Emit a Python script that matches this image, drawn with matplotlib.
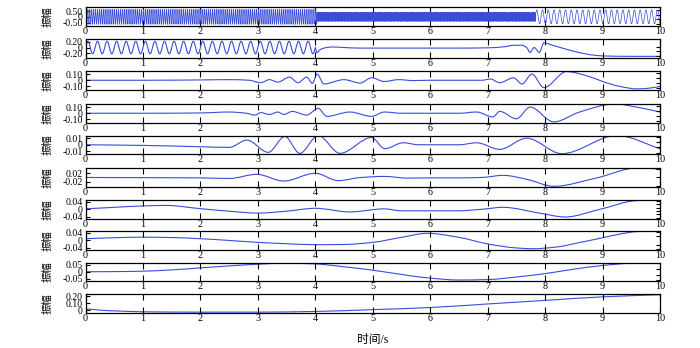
import numpy as np
import matplotlib
matplotlib.use('Agg')
import matplotlib.pyplot as plt
from matplotlib.ticker import FixedLocator, NullFormatter
from matplotlib.path import Path
from matplotlib.patches import PathPatch

plt.rcParams['font.family'] = ['Liberation Serif', 'Noto Sans CJK SC']

# ---------------- data ----------------
x_ticks = [0, 1, 2, 3, 4, 5, 6, 7, 8, 9, 10]
y_label = '振幅'
x_label = '时间/s'

# IMF1: constant-tone segments (start s, end s, Hz, amplitude)
imf1_seg_start = [0.0, 4.03, 7.83]
imf1_seg_end = [4.03, 7.83, 10.0]
imf1_seg_freq = [30.0, 90.0, 10.0]
imf1_seg_amp = [0.65, 0.4, 0.6]

# IMF2: tone part (0 .. 4 s) then read points
imf2_tone_end = 4.0
imf2_tone_freq = 6.0
imf2_tone_amp = 0.22
imf2_t = [4.0, 4.03, 4.08, 4.15, 4.3, 4.5, 4.8, 5.5, 6.5, 7.0, 7.3, 7.45, 7.6, 7.68,
          7.74, 7.81, 7.9, 7.98, 8.1, 8.3, 8.5, 8.7, 8.9, 9.1, 9.5, 10.0]
imf2_y = [0.0, -0.18, -0.08, -0.02, 0.02, 0.0, -0.02, -0.02, -0.02, -0.01, 0.03, 0.08, 0.08, 0.0,
          -0.17, 0.0, -0.17, 0.17, 0.1, -0.02, -0.13, -0.22, -0.28, -0.3, -0.31, -0.31]

imf3_t = [0, 1, 2, 2.5, 2.85, 3.05, 3.2, 3.35, 3.55, 3.7, 3.85, 3.95, 4.03, 4.15, 4.5,
          4.78, 4.98, 5.2, 5.45, 5.7, 6.0, 6.5, 6.9, 7.05, 7.21, 7.45, 7.6, 7.77, 7.98,
          8.37, 8.8, 9.0, 9.3, 9.6, 9.8, 10.0]
imf3_y = [0, 0, 0.005, 0.01, 0.0, -0.04, 0.01, -0.03, 0.05, -0.04, 0.05, -0.05, 0.1, -0.06,
          0.01, -0.045, 0.04, -0.02, 0.01, -0.005, 0.0, 0.0, 0.0, 0.02, -0.04, 0.04, -0.06,
          0.1, -0.12, 0.14, 0.05, -0.02, -0.1, -0.14, -0.13, -0.1]

imf4_t = [0, 1, 2, 2.5, 2.8, 2.95, 3.05, 3.2, 3.35, 3.45, 3.6, 3.85, 4.05, 4.2, 4.6,
          4.98, 5.2, 5.5, 6.0, 6.5, 6.81, 7.09, 7.21, 7.5, 7.74, 8.15, 8.6, 9.2, 9.7, 10.0]
imf4_y = [0, 0, 0.005, 0.02, 0.0, -0.03, 0.01, -0.02, 0.02, -0.02, 0.03, -0.03, 0.08,
          -0.05, 0.02, -0.05, 0.02, 0.0, 0.0, 0.0, 0.02, -0.06, 0.03, -0.09, 0.1, -0.14,
          0.02, 0.15, 0.08, 0.02]

imf5_t = [0, 1, 2, 2.5, 2.81, 3.18, 3.47, 3.73, 4.05, 4.43, 4.98, 5.21, 5.53, 5.8, 6.2,
          6.5, 6.81, 7.21, 7.68, 8.29, 9.25, 10.0]
imf5_y = [0, -0.001, -0.003, -0.004, 0.007, -0.0115, 0.0125, -0.013, 0.014, -0.013, 0.011,
          -0.006, 0.003, 0.0, 0.0, 0.0, 0.003, -0.007, 0.01, -0.0135, 0.014, -0.006]

imf6_t = [0, 1, 2, 2.5, 2.98, 3.45, 4.0, 4.4, 4.8, 5.2, 5.6, 6.0, 6.5, 6.9, 7.27, 7.7,
          8.15, 8.9, 9.6, 10.0]
imf6_y = [0, -0.001, -0.002, -0.005, 0.015, -0.017, 0.02, -0.015, 0.0, 0.005, -0.003,
          -0.002, -0.002, 0.0, 0.01, -0.01, -0.042, -0.002, 0.045, 0.04]

imf7_t = [0, 0.5, 1.0, 1.4, 2.0, 2.5, 3.0, 3.5, 4.0, 4.6, 5.2, 5.5, 6.0, 6.5, 6.9, 7.27,
          7.9, 8.35, 8.96, 9.6, 9.8, 10.0]
imf7_y = [0.002, 0.01, 0.017, 0.02, 0.003, -0.01, -0.02, -0.01, 0.005, -0.014, 0.002,
          -0.008, -0.008, -0.008, 0.0, 0.01, -0.02, -0.04, 0.0, 0.045, 0.046, 0.046]

imf8_t = [0, 0.5, 1, 1.5, 2, 2.5, 3, 3.5, 4, 4.5, 5, 5.5, 5.95, 6.5, 7, 7.5, 7.8, 8.2,
          8.6, 9, 9.3, 9.6, 10]
imf8_y = [0.008, 0.013, 0.016, 0.014, 0.008, -0.001, -0.011, -0.018, -0.023, -0.022, -0.011,
          0.015, 0.036, 0.015, -0.019, -0.04, -0.044, -0.035, -0.012, 0.013, 0.032, 0.045,
          0.048]

imf9_t = [0, 0.5, 1, 1.5, 2, 2.5, 3, 3.5, 4, 4.5, 5, 5.5, 6, 6.5, 7, 7.5, 8, 8.5, 9, 9.5, 10]
imf9_y = [0.0, 0.001, 0.004, 0.013, 0.027, 0.041, 0.053, 0.06, 0.055, 0.035, 0.011, -0.019,
          -0.045, -0.058, -0.055, -0.037, -0.013, 0.018, 0.044, 0.06, 0.064]

res_t = [0, 0.1, 0.3, 0.6, 1, 2, 3, 4, 5, 6, 7, 8, 9, 10]
res_y = [0.02, 0.015, 0.0, -0.01, -0.02, -0.025, -0.025, -0.015, 0.01, 0.04, 0.09, 0.14,
         0.19, 0.22]

# y ticks (left, labelled) for each panel
yticks = [[-0.5, 0, 0.5], [-0.2, 0, 0.2], [-0.1, 0, 0.1], [-0.1, 0, 0.1], [-0.01, 0, 0.01],
          [-0.02, 0.02], [-0.04, 0, 0.04], [-0.04, 0, 0.04], [-0.05, 0, 0.05], [0, 0.1, 0.2]]
ytick_labels = [['-0.50', '0', '0.50'], ['-0.20', '0', '0.20'], ['-0.10', '0', '0.10'],
                ['-0.10', '0', '0.10'], ['-0.01', '0', '0.01'], ['-0.02', '0.02'],
                ['-0.04', '0', '0.04'], ['-0.04', '0', '0.04'], ['-0.05', '0', '0.05'],
                ['0', '0.10', '0.20']]


# ---------------- helpers ----------------
def tone_series(starts, ends, freqs, amps):
    ts, ys = [], []
    for s, e, f, a in zip(starts, ends, freqs, amps):
        t = np.linspace(s, e, int((e - s) * 400) + 1)
        ts.append(t)
        ys.append(a * np.sin(2 * np.pi * f * (t - s)))
    return np.concatenate(ts), np.concatenate(ys)


def smooth_path(t, y):
    """Bezier path through the read points (monotone tangents, flat at extrema)."""
    t = np.asarray(t, float)
    y = np.asarray(y, float)
    h = np.diff(t)
    d = np.diff(y) / h
    m = np.zeros_like(y)
    m[0], m[-1] = d[0], d[-1]
    for k in range(1, len(y) - 1):
        if d[k - 1] * d[k] > 0:
            w1 = 2 * h[k] + h[k - 1]
            w2 = h[k] + 2 * h[k - 1]
            m[k] = (w1 + w2) / (w1 / d[k - 1] + w2 / d[k])
    verts = [(t[0], y[0])]
    codes = [Path.MOVETO]
    for k in range(len(t) - 1):
        verts += [(t[k] + h[k] / 3, y[k] + m[k] * h[k] / 3),
                  (t[k + 1] - h[k] / 3, y[k + 1] - m[k + 1] * h[k] / 3),
                  (t[k + 1], y[k + 1])]
        codes += [Path.CURVE4] * 3
    return Path(verts, codes)


t1, y1 = tone_series(imf1_seg_start, imf1_seg_end, imf1_seg_freq, imf1_seg_amp)
t2a, y2a = tone_series([0.0], [imf2_tone_end], [imf2_tone_freq], [imf2_tone_amp])

series = [None, None, (imf3_t, imf3_y), (imf4_t, imf4_y), (imf5_t, imf5_y),
          (imf6_t, imf6_y), (imf7_t, imf7_y), (imf8_t, imf8_y), (imf9_t, imf9_y),
          (res_t, res_y)]

ylims = [(-0.75, 0.85), (-0.35, 0.3), (-0.15, 0.15), (-0.15, 0.15), (-0.014, 0.014),
         (-0.043, 0.045), (-0.048, 0.048), (-0.048, 0.048), (-0.065, 0.065), (-0.03, 0.23)]
right_ticks = [np.linspace(-0.6, 0.6, 4), np.linspace(-0.3, 0.2, 4), np.linspace(-0.12, 0.12, 4),
               np.linspace(-0.12, 0.12, 4), np.linspace(-0.012, 0.012, 4),
               np.linspace(-0.04, 0.04, 5), np.linspace(-0.045, 0.045, 6),
               np.linspace(-0.045, 0.045, 5), np.linspace(-0.06, 0.06, 4),
               np.linspace(0.0, 0.2, 3)]

# ---------------- figure ----------------
W, H = 700, 348
fig = plt.figure(figsize=(W / 100, H / 100), dpi=100)
ax_left, ax_right = 85.5, 660.0
tops = [7, 39, 71, 104, 135.5, 168, 200, 231, 262.5, 294]
height = 18.5
line_color = '#3a4cdc'

for i in range(10):
    ax = fig.add_axes([ax_left / W, 1 - (tops[i] + height) / H,
                       (ax_right - ax_left) / W, height / H])
    if i == 0:
        ax.plot(t1, y1, color=line_color, lw=0.5)
    elif i == 1:
        ax.plot(t2a, y2a, color=line_color, lw=0.8)
        ax.add_patch(PathPatch(smooth_path(imf2_t, imf2_y), fill=False,
                               edgecolor=line_color, lw=0.8))
    else:
        t, y = series[i]
        ax.add_patch(PathPatch(smooth_path(t, y), fill=False, edgecolor=line_color, lw=0.8))
    ax.set_xlim(0, 10)
    ax.set_ylim(*ylims[i])
    ax.set_xticks(x_ticks)
    ax.set_xticklabels([str(v) for v in x_ticks])
    ax.set_yticks(yticks[i])
    ax.set_yticklabels(ytick_labels[i])
    ax.yaxis.set_minor_locator(FixedLocator(right_ticks[i]))
    ax.yaxis.set_minor_formatter(NullFormatter())
    ax.tick_params(axis='x', direction='in', top=True, bottom=True, length=4, width=0.8,
                   labelsize=7.3, pad=1)
    ax.tick_params(axis='y', which='major', direction='in', left=True, right=False,
                   length=3, width=0.8, labelsize=7, pad=2)
    ax.tick_params(axis='y', which='minor', direction='in', left=False, right=True,
                   length=3, width=0.8)
    for sp in ax.spines.values():
        sp.set_linewidth(0.9)
    ax.set_ylabel(y_label, fontsize=7.5, labelpad=0)
    ax.yaxis.set_label_coords(-0.058, 0.5)
    if i == 9:
        ax.set_xlabel(x_label, fontsize=8.5, labelpad=8)

fig.savefig('out.png', dpi=100)
